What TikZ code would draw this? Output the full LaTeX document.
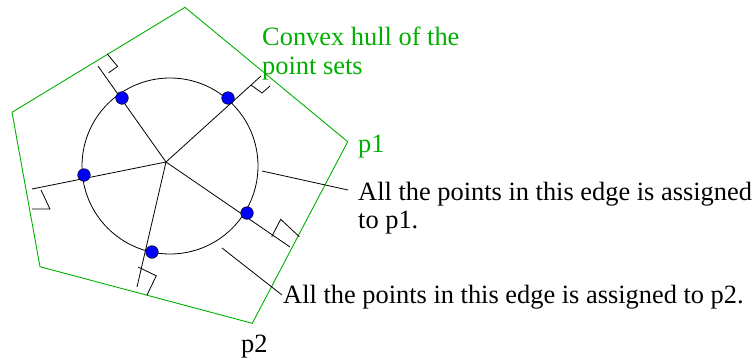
\documentclass[tikz,border=0pt]{standalone}
\usepackage{fontspec}
\setmainfont{Liberation Serif}
\definecolor{hullgreen}{RGB}{0,176,0}
\begin{document}
\begin{tikzpicture}[x=1pt,y=-1pt,
  hull/.style={draw=hullgreen,line width=0.9pt,line join=miter},
  thinline/.style={draw=black,line width=0.8pt},
  dot/.style={circle,fill=blue,draw=black,line width=0.5pt,minimum size=12.6pt,inner sep=0pt},
  lbl/.style={inner sep=0pt,anchor=base west,font=\fontsize{26.4}{28.3}\selectfont,align=left},
  glbl/.style={lbl,text=hullgreen}]
\useasboundingbox (0,0) rectangle (756,362);
% hull vertices
\coordinate (h1) at (185,7.3);
\coordinate (h2) at (12,112.3);
\coordinate (h3) at (40,266.7);
\coordinate (h4) at (252.3,323.3);
\coordinate (h5) at (347.7,141.7);
\draw[hull] (h1) -- (h2) -- (h3) -- (h4) -- (h5) -- cycle;
% circle
\coordinate (cc) at (170,166);
\draw[thinline] (cc) circle[radius=88];
% spokes
\coordinate (c) at (166,162);
\coordinate (eUL) at (98,66);
\coordinate (eUR) at (261,76);
\coordinate (eL) at (32,189);
\coordinate (eLR) at (290,247);
\coordinate (eLL) at (137,287);
\draw[thinline] (c) -- (eUL);
\draw[thinline] (c) -- (eUR);
\draw[thinline] (c) -- (eL);
\draw[thinline] (c) -- (eLR);
\draw[thinline] (c) -- (eLL);
% right angle marks
\draw[thinline] (107.3,54) -- (117.6,66.4) -- (108.6,72.8);
\draw[thinline] (251,85) -- (262,93) -- (270,86);
\draw[thinline] (41,190) -- (50,209) -- (32,209);
\draw[thinline] (271.7,236.7) -- (280.7,219.3) -- (299.3,236.7);
\draw[thinline] (138,267) -- (156.3,275.8) -- (147,295);
% dots
\node[dot] (d1) at (122,98) {};
\node[dot] (d2) at (228,98) {};
\node[dot] (d3) at (84,175) {};
\node[dot] (d4) at (247,213) {};
\node[dot] (d5) at (152,252) {};
% labels (base anchor of a two-line node is its last line)
\node[glbl] (tconv) at (262,74) {Convex hull of the\\point sets};
\node[glbl] (tp1) at (358,152) {p1};
\node[lbl] (tA) at (358,228.5) {All the points in this edge is assigned\\to p1.};
\node[lbl] (tB) at (283,303.5) {All the points in this edge is assigned to p2.};
\node[lbl] (tp2) at (241,352) {p2};
% leader lines
\coordinate (la) at (262,171);
\coordinate (la2) at (348,190);
\coordinate (lb) at (222,248);
\coordinate (lb2) at (282,295);
\draw[thinline] (la) -- (la2);
\draw[thinline] (lb) -- (lb2);
\end{tikzpicture}
\end{document}
